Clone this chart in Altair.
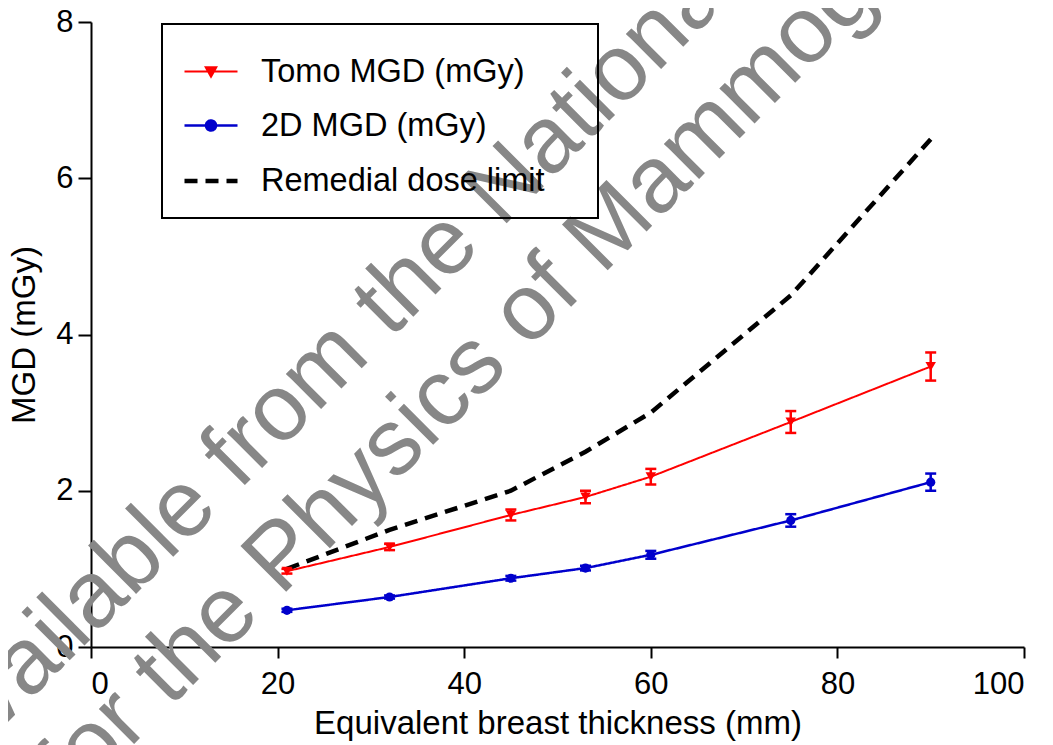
import altair as alt
import pandas as pd

# ---- data ----
thickness = [21, 32, 45, 53, 60, 75, 90]
tomo_mgd = [0.97, 1.28, 1.69, 1.92, 2.18, 2.88, 3.59]
tomo_err = [0.03, 0.04, 0.07, 0.08, 0.10, 0.14, 0.18]
mgd_2d = [0.47, 0.64, 0.88, 1.01, 1.18, 1.62, 2.11]
mgd_2d_err = [0.02, 0.02, 0.03, 0.03, 0.05, 0.08, 0.11]
remedial = [1.0, 1.5, 2.0, 2.5, 3.0, 4.5, 6.5]
series_names = ["Tomo MGD (mGy)", "2D MGD (mGy)", "Remedial dose limit"]
x_ticks = [0, 20, 40, 60, 80, 100]
y_ticks = [0, 2, 4, 6, 8]
watermark_lines = ["Available from the National Coordinating", "Centre for the Physics of Mammography"]

rows = []
for name, vals, errs in [
    (series_names[0], tomo_mgd, tomo_err),
    (series_names[1], mgd_2d, mgd_2d_err),
    (series_names[2], remedial, [0] * len(remedial)),
]:
    for t, v, e in zip(thickness, vals, errs):
        rows.append({"thickness": t, "mgd": v, "lo": v - e, "hi": v + e, "series": name})
df = pd.DataFrame(rows)

FONT = "Liberation Sans"
colors = ["#ff0000", "#0000cc", "#000000"]
widths = [2, 2.5, 4.5]
dashes = [[1, 0], [1, 0], [13, 8]]
tri_path = "M-1,0L1,0M-0.2,-0.16L0.2,-0.16L0,0.2Z"
circ_path = "M-1,0L1,0M-0.19,0A0.19,0.19,0,1,1,0.19,0A0.19,0.19,0,1,1,-0.19,0Z"
line_path = "M-1,0L1,0"

x_enc = alt.X(
    "thickness:Q",
    scale=alt.Scale(domain=[0, 100], nice=False),
    axis=alt.Axis(values=x_ticks, title="Equivalent breast thickness (mm)", format="d",
                  tickSize=11, labelPadding=11, titlePadding=8),
)
y_enc = alt.Y(
    "mgd:Q",
    scale=alt.Scale(domain=[0, 8], nice=False),
    axis=alt.Axis(values=y_ticks, title="MGD (mGy)", format="d", tickSize=13,
                  labelPadding=5, titlePadding=14),
)

base = alt.Chart(df)


def only(i):
    return base.transform_filter(alt.datum.series == series_names[i])


layers = []

# watermark (behind everything)
for txt, px, py in [(watermark_lines[0], -139, 756), (watermark_lines[1], -235, 1000)]:
    layers.append(
        alt.Chart(pd.DataFrame({"t": [txt]})).mark_text(
            angle=315, align="left", baseline="alphabetic", fontSize=94, font=FONT,
            color="#878787",
        ).encode(text="t:N", x=alt.value(px), y=alt.value(py))
    )

# series lines
for i in range(3):
    layers.append(
        only(i).mark_line(color=colors[i], strokeWidth=widths[i], strokeDash=dashes[i]).encode(
            x=x_enc, y=y_enc
        )
    )

# error bars (Tomo, 2D)
for i in range(2):
    layers.append(
        only(i).mark_rule(color=colors[i], strokeWidth=2.5).encode(
            x="thickness:Q", y="lo:Q", y2="hi:Q"
        )
    )
    for fld in ["lo", "hi"]:
        layers.append(
            only(i).mark_tick(orient="horizontal", size=11, thickness=2.5, opacity=1,
                              color=colors[i]).encode(x="thickness:Q", y=f"{fld}:Q")
        )

# markers
layers.append(
    only(0).mark_point(shape="triangle-down", filled=True, size=110, opacity=1,
                       color=colors[0], strokeWidth=0).encode(x="thickness:Q", y="mgd:Q")
)
layers.append(
    only(1).mark_point(shape="circle", filled=True, size=85, opacity=1,
                       color=colors[1], strokeWidth=0).encode(x="thickness:Q", y="mgd:Q")
)

# legend (scale-driven, no visible marks)
legend = alt.Legend(
    title="\u00a0", titleOrient="right", titleFontSize=4, titlePadding=33,
    orient="none", legendX=71, legendY=2, strokeColor="black",
    padding=20, symbolSize=2809, labelFontSize=32.5, labelFont=FONT, labelColor="black",
    labelOffset=21, rowPadding=9.5, symbolOpacity=1, labelLimit=600,
)
layers.append(
    base.transform_filter("datum.thickness < 0").mark_point(filled=True, opacity=1).encode(
        x="thickness:Q", y="mgd:Q",
        shape=alt.Shape("series:N", scale=alt.Scale(domain=series_names,
                        range=[tri_path, circ_path, line_path]), legend=legend),
        fill=alt.Fill("series:N", scale=alt.Scale(domain=series_names, range=colors),
                      legend=legend),
        stroke=alt.Stroke("series:N", scale=alt.Scale(domain=series_names, range=colors),
                          legend=legend),
        strokeDash=alt.StrokeDash("series:N", scale=alt.Scale(domain=series_names,
                                  range=dashes), legend=legend),
        strokeWidth=alt.StrokeWidth("series:N", scale=alt.Scale(type="ordinal",
                                    domain=series_names, range=widths), legend=legend),
    )
)

chart = alt.layer(*layers).properties(
    width=933, height=625,
    autosize=alt.AutoSizeParams(type="none"),
    padding={"left": 83, "top": 14, "right": 21, "bottom": 98},
).configure_view(stroke=None).configure_axis(
    grid=False, domainColor="black", domainWidth=2, tickColor="black", tickWidth=2,
    labelColor="black", titleColor="black", labelFont=FONT, titleFont=FONT,
    labelFontSize=31, titleFontSize=33, titleFontWeight="normal",
).configure_legend(strokeWidth=2)

chart.save("out.html", embed_options={"renderer": "svg", "actions": False})
